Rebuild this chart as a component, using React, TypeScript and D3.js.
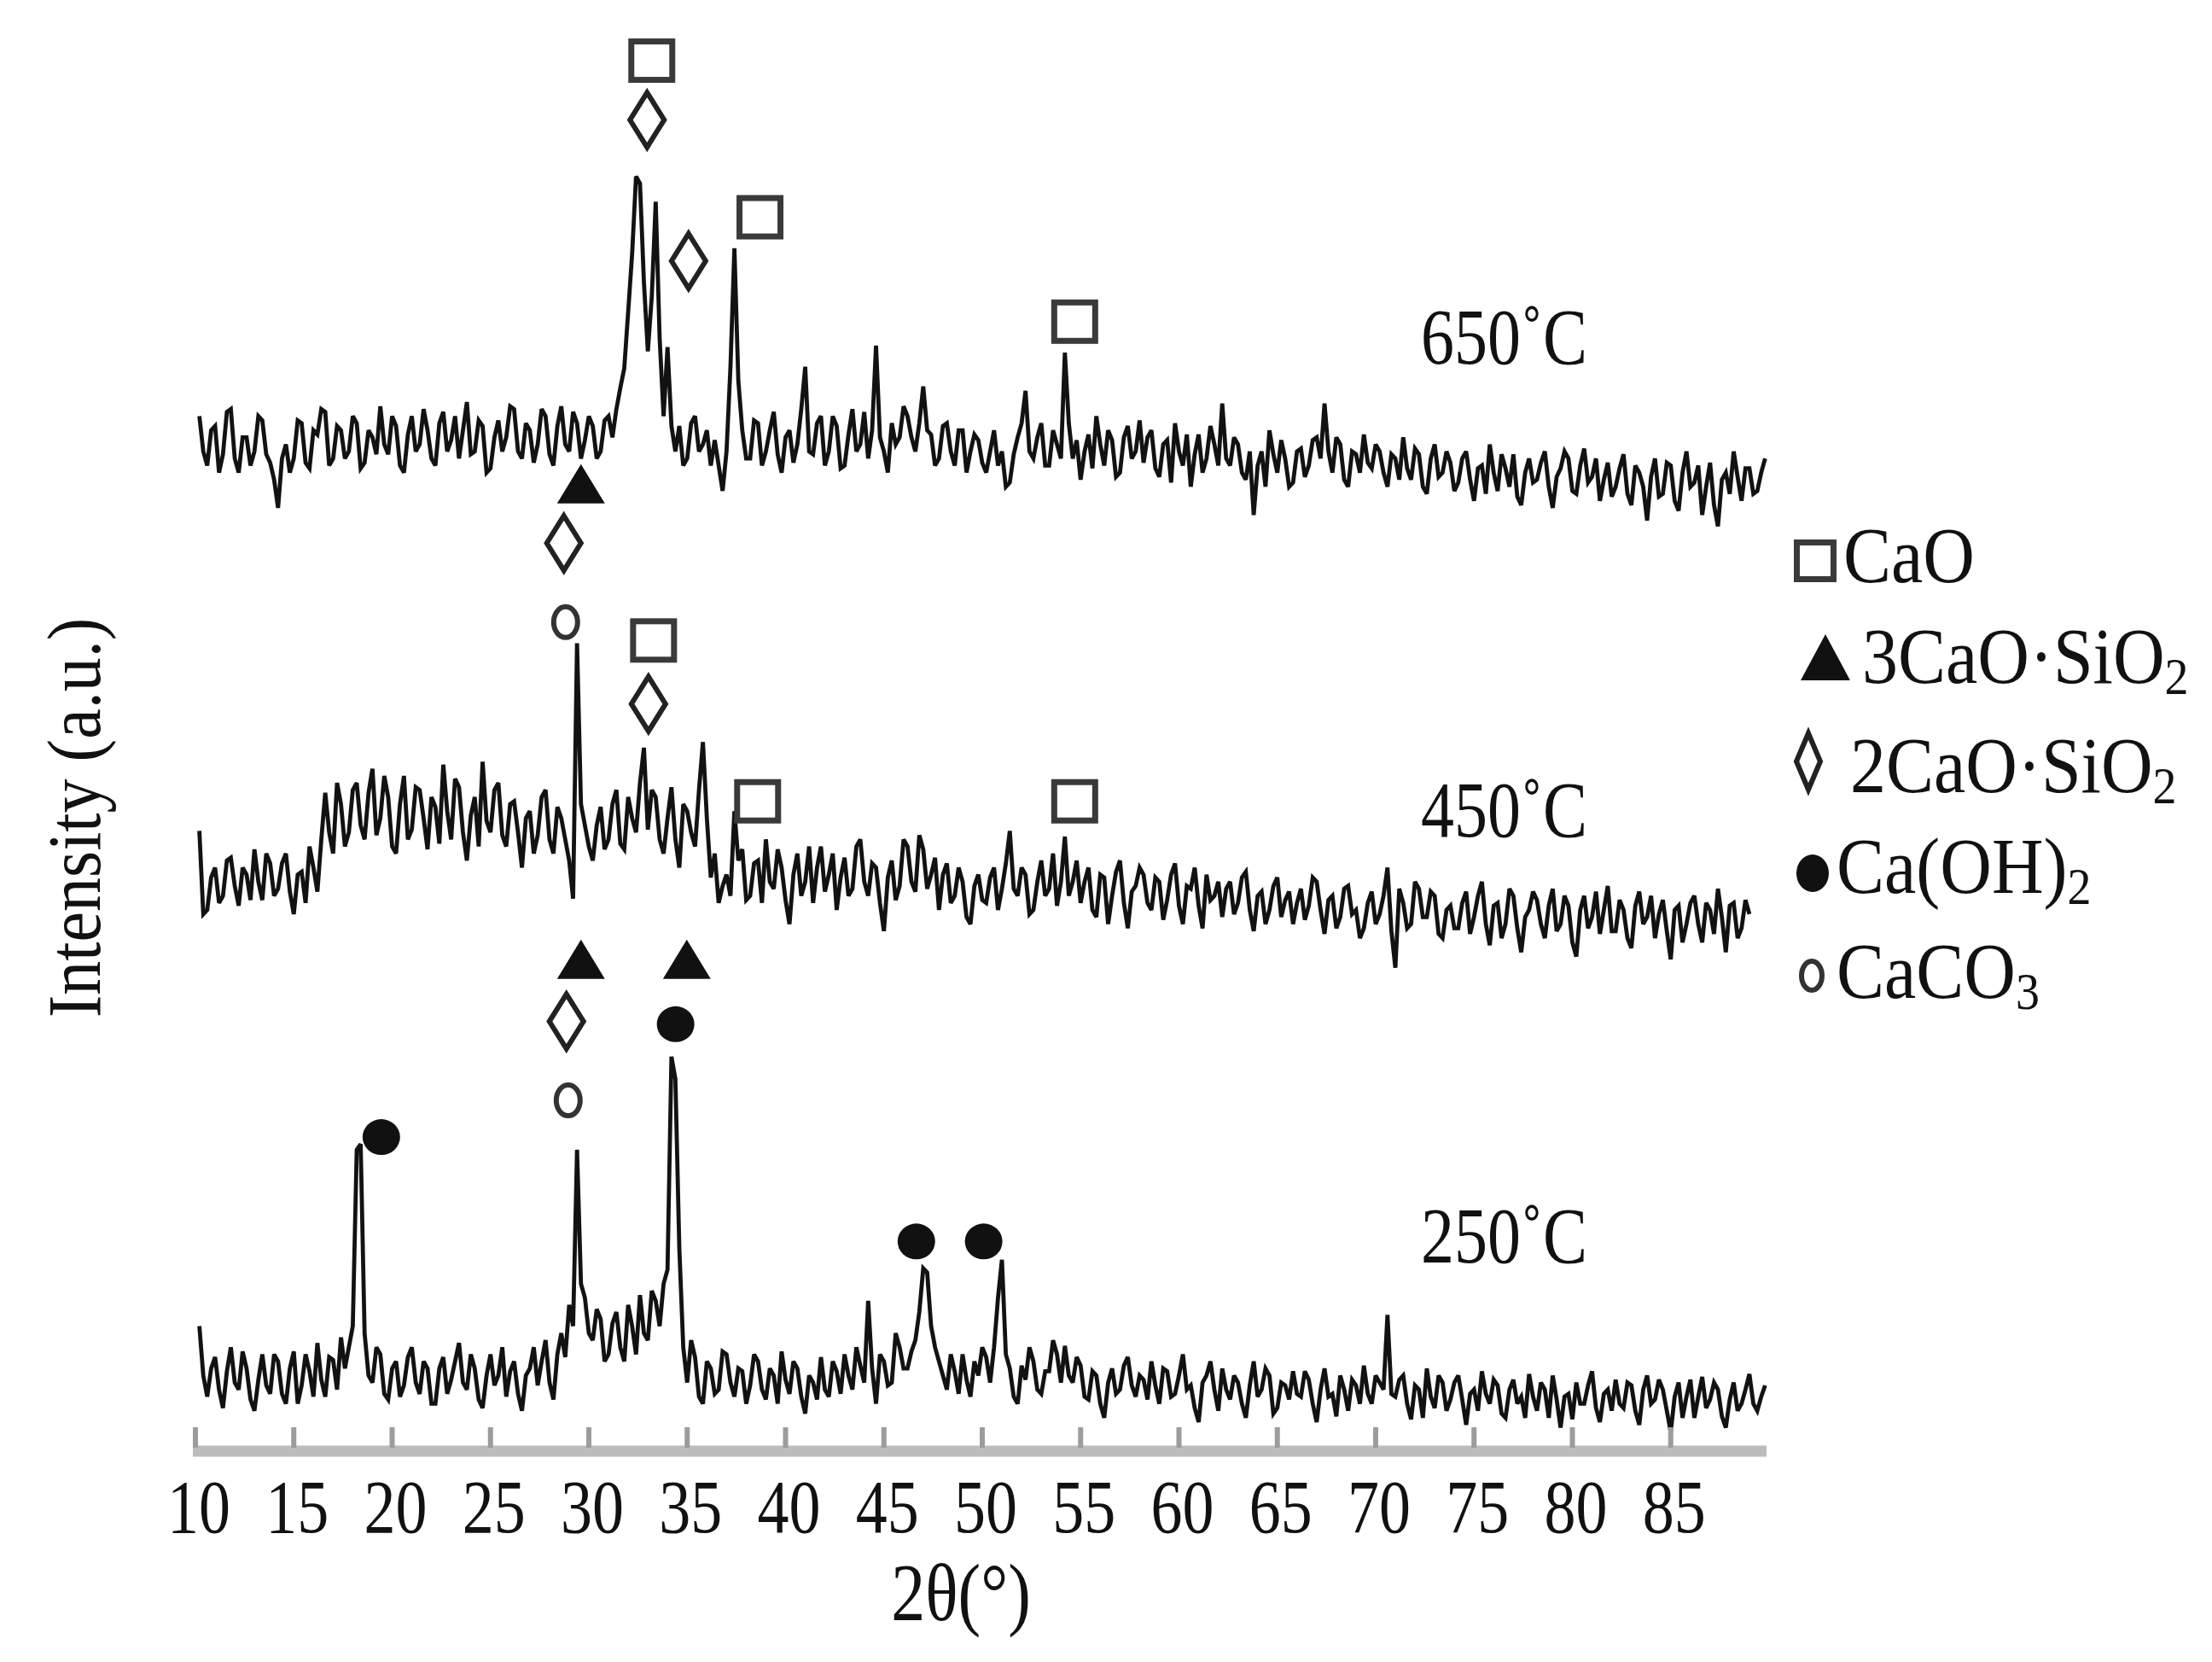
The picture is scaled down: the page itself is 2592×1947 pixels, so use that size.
import React from 'react';
import * as d3 from 'd3';

// ---------- DATA ----------
// XRD patterns, 2θ from 10.2° with a 0.2° step; intensity in a.u. above each pattern's own base
const THETA_START = 10.2;
const THETA_STEP = 0.2;

const series250 = [
  60, 25, 10, 30, 38, 15, 2, 28, 45, 20, 15, 42, 30, 8, 0, 22, 40, 18, 12, 40,
  35, 12, 5, 30, 42, 5, 18, 40, 28, 10, 48, 22, 10, 38, 36, 15, 52, 30, 45, 60,
  185, 189, 55, 25, 20, 45, 40, 12, 8, 30, 35, 10, 18, 38, 45, 20, 12, 35, 30, 5,
  5, 30, 38, 12, 22, 35, 48, 20, 15, 40, 30, 8, 2, 25, 40, 18, 25, 45, 10, 28,
  35, 12, 0, 25, 30, 45, 18, 35, 50, 20, 8, 40, 55, 38, 75, 60, 185, 90, 80, 55,
  50, 72, 65, 35, 40, 62, 70, 45, 35, 75, 60, 40, 82, 55, 50, 85, 78, 60, 90, 100,
  251, 235, 115, 45, 20, 50, 38, 10, 5, 35, 30, 12, 15, 42, 40, 20, 10, 30, 28, 5,
  18, 40, 35, 15, 8, 30, 25, 5, 42, 22, 12, 35, 30, 10, -2, 25, 20, 8, 38, 15,
  10, 35, 28, 12, 40, 25, 15, 45, 32, 20, 78, 30, 5, 40, 35, 18, 20, 55, 45, 30,
  30, 42, 50, 70, 101, 98, 60, 45, 35, 25, 15, 40, 28, 12, 40, 22, 10, 35, 25, 45,
  38, 20, 45, 80, 107, 40, 30, 10, 5, 32, 22, 45, 35, 15, 12, 28, 28, 50, 40, 20,
  46, 25, 20, 38, 32, 10, 8, 28, 25, 5, -5, 20, 30, 12, 15, 32, 38, 18, 10, 25,
  22, 8, 35, 18, 5, 30, 28, 10, 12, 25, 40, 15, 18, 2, -8, 20, 25, 35, 15, 0,
  30, 15, 8, 25, 20, 5, -5, 18, 35, 10, 15, 30, 25, -2, 2, 20, 18, 8, 28, 12,
  10, 28, 22, 5, -8, 15, 30, 10, 12, -4, 25, 15, 0, 22, 18, 5, 32, 12, 5, 25,
  20, 15, 68, 12, 10, 22, 25, 5, -6, 18, 15, -5, 30, 10, 2, 25, 20, 0, 8, 20,
  25, 8, -10, 12, 15, 0, 28, 12, 5, 22, 18, -2, -5, 15, 22, 5, 10, -5, 26, 10,
  0, 20, 15, -5, 25, 8, -12, 10, 12, -6, 20, 5, 5, 18, 28, 2, -8, 12, 15, 0,
  22, 5, 2, 20, 18, 0, -10, 15, 25, 5, 8, 22, 15, 0, -15, 10, 20, -5, 10, 22,
  -5, 10, 24, 2, 8, 20, 15, -4, -12, 8, 20, 0, 5, 15, 26, 5, 0, 10, 18,
];

const series450 = [
  61, 2, 5, 28, 35, 10, 15, 40, 42, 22, 8, 35, 30, 12, 48, 25, 12, 45, 38, 15,
  20, 38, 45, 18, 2, 30, 32, 10, 50, 35, 18, 55, 88, 60, 45, 95, 80, 50, 60, 90,
  95, 65, 55, 88, 105, 58, 70, 100, 85, 50, 45, 80, 100, 55, 62, 92, 90, 70, 48, 85,
  78, 52, 108, 75, 55, 98, 92, 60, 40, 72, 85, 50, 110, 68, 60, 90, 95, 58, 50, 80,
  82, 60, 35, 70, 75, 45, 58, 85, 90, 55, 45, 78, 70, 55, 40, 13, 194, 80, 65, 50,
  40, 65, 78, 48, 55, 80, 90, 52, 48, 85, 70, 60, 95, 120, 62, 90, 85, 55, 45, 70,
  92, 55, 35, 80, 75, 60, 50, 90, 124, 70, 28, 45, 10, 22, 30, 15, 75, 40, 48, 12,
  15, 38, 40, 10, 55, 25, 20, 48, 35, 12, -5, 30, 45, 15, 25, 50, 10, 35, 50, 18,
  30, 45, 5, 28, 42, 15, 20, 50, 55, 25, 15, 38, 35, 10, -10, 28, 40, 12, 22, 55,
  50, 25, 18, 58, 48, 20, 30, 42, 5, 30, 38, 10, 15, 35, 25, 0, -5, 22, 30, 12,
  10, 28, 35, 5, 20, 38, 61, 20, 15, 35, 30, 2, 5, 25, 40, 15, 20, 45, 8, 25,
  57, 15, 25, 40, 10, 25, 35, 5, 0, 30, 28, -5, 15, 32, 40, 10, -8, 18, 22, 35,
  30, 10, 5, 28, 25, -2, 12, 30, 38, 8, -5, 22, 20, 35, 8, -8, 30, 12, 15, 25,
  0, 20, 25, 2, 10, 28, 32, 5, -10, 15, 18, -5, 5, 22, 28, 0, 12, 18, -5, 10,
  20, -2, 8, 28, 25, 5, -12, 12, 15, -8, 0, 20, 22, 2, 5, -15, -8, 10, 18, -5,
  2, 15, 35, -10, -36, 20, 10, -8, -5, 25, 20, 0, 0, 18, 15, -12, -15, 5, 8, -8,
  -8, 10, 18, -12, 0, 15, 25, -5, -20, 8, 10, -15, -5, 20, 15, -8, -25, 0, 5, 18,
  12, -5, -15, 8, 20, -10, -5, 15, 8, -18, -28, 5, 15, -8, 0, 18, -12, 5, 22, -10,
  -10, 12, 5, -15, -22, 8, 18, -5, 0, 15, -15, 2, 12, -10, -30, 5, 8, -18, -5, 10,
  15, -5, -18, 10, 5, -12, 20, 0, -25, 8, 10, -15, -8, 12, 2,
];

const series650 = [
  55, 30, 20, 45, 48, 15, 28, 58, 60, 25, 15, 40, 40, 20, 30, 55, 52, 28, 22, 10,
  -10, 25, 35, 15, 25, 52, 50, 22, 18, 45, 42, 60, 58, 20, 25, 48, 45, 25, 30, 55,
  50, 18, 22, 45, 40, 28, 62, 35, 28, 55, 48, 20, 15, 42, 55, 30, 35, 60, 45, 25,
  20, 50, 58, 30, 38, 55, 25, 45, 65, 28, 30, 52, 48, 15, 18, 40, 52, 30, 40, 62,
  60, 30, 25, 50, 45, 22, 35, 60, 55, 28, 20, 48, 62, 35, 30, 58, 50, 25, 38, 55,
  48, 25, 30, 52, 55, 40, 60, 75, 89, 129, 170, 225, 220, 150, 101, 140, 207, 110, 55, 104,
  48, 30, 48, 20, 25, 50, 55, 30, 35, 45, 20, 38, 20, 2, 30, 90, 174, 80, 45, 25,
  25, 52, 50, 20, 30, 45, 58, 28, 15, 40, 45, 22, 35, 60, 90, 30, 28, 50, 55, 20,
  30, 55, 48, 18, 20, 42, 60, 30, 35, 58, 25, 45, 105, 40, 30, 15, 50, 35, 40, 62,
  55, 40, 30, 50, 76, 45, 42, 20, 25, 48, 50, 30, 20, 45, 45, 15, 30, 42, 38, 22,
  15, 30, 45, 20, 30, 5, 8, 28, 40, 50, 73, 30, 25, 40, 50, 20, 20, 45, 35, 25,
  100, 50, 25, 38, 10, 30, 42, 18, 55, 35, 20, 45, 38, 12, 15, 40, 48, 25, 30, 52,
  22, 40, 45, 18, 12, 35, 38, 8, 50, 30, 20, 42, 5, 28, 42, 15, 25, 48, 35, 20,
  64, 25, 20, 40, 35, 15, 10, 30, -15, 20, 30, 5, 45, 28, 15, 38, 25, 5, 8, 30,
  32, 12, 20, 38, 40, 25, 64, 30, 15, 40, 35, 10, 5, 30, 28, 15, 42, 22, 18, 35,
  30, 15, 5, 28, 25, 10, 40, 18, 10, 32, 28, 5, 0, 25, 35, 12, 15, 30, 22, 2,
  8, 25, 30, 10, -5, 18, 20, 0, 35, 15, 2, 28, 18, 5, 28, -2, -8, 15, 25, 8,
  10, 22, 30, 5, -10, 12, 18, 30, 25, 2, 0, 20, 32, 8, 12, 25, -5, 10, 22, -2,
  5, 18, 28, 0, -8, 20, 15, 5, -19, 12, 25, -2, 0, 22, 20, -5, -12, 15, 30, 5,
  8, 20, -15, 5, 22, -8, -23, 10, 15, 0, 30, 12, -5, 18, 18, 0, 2, 15, 25,
];

const seriesLabels = ['650˚C', '450˚C', '250˚C'];
const seriesOffsets = [675, 375, 25]; // vertical stacking (a.u.)
const labelLevels = [767, 432, 130];  // a.u. level of each temperature label baseline
const labelTheta = 72.3;

const xTicks = [10, 15, 20, 25, 30, 35, 40, 45, 50, 55, 60, 65, 70, 75, 80, 85];

// phase markers: [2θ, level in a.u.]
const caoMarks = [[33.2, 982], [38.7, 871], [54.7, 797], [33.29, 571], [38.58, 457], [54.7, 457]];
const c3sMarks = [[29.6, 682], [29.6, 345], [34.98, 345]];
const c2sMarks = [[32.96, 940], [35.07, 840], [28.73, 640], [33.03, 526], [28.86, 301]];
const chMarks = [[34.41, 299], [19.45, 219], [46.65, 145], [50.07, 145]];
const ccMarks = [[28.82, 584], [28.95, 245]];

// ---------- DRAWING ----------
const W = 2592;
const H = 1947;
const FONT = "'Liberation Serif', 'Times New Roman', serif";

const x = d3.scaleLinear().domain([10, 90]).range([229, 2073]);
const y = d3.scaleLinear().domain([0, 1025]).range([1694, 0]);

function Square({ cx, cy, w, h, sw }: any) {
  return <rect x={cx - w / 2} y={cy - h / 2} width={w} height={h} fill="none" stroke="#3a3a3a" strokeWidth={sw} />;
}
function Diamond({ cx, cy, hw, hh, sw }: any) {
  return <path d={`M${cx},${cy - hh}L${cx + hw},${cy}L${cx},${cy + hh}L${cx - hw},${cy}Z`} fill="none" stroke="#222" strokeWidth={sw} />;
}
function Tri({ cx, cy, w, h }: any) {
  return <path d={`M${cx},${cy - h / 2}L${cx + w / 2},${cy + h / 2}L${cx - w / 2},${cy + h / 2}Z`} fill="#111" />;
}
function Dot({ cx, cy, rx, ry }: any) {
  return <ellipse cx={cx} cy={cy} rx={rx} ry={ry} fill="#111" />;
}
function Ring({ cx, cy, rx, ry, sw }: any) {
  return <ellipse cx={cx} cy={cy} rx={rx} ry={ry} fill="none" stroke="#333" strokeWidth={sw} />;
}

function STxt({ x0, y0, size, sy = 1.15, anchor = 'start', children }: any) {
  return (
    <g transform={`translate(${x0},${y0}) scale(1,${sy})`}>
      <text x={0} y={0} fontFamily={FONT} fontSize={size} textAnchor={anchor} fill="#111">{children}</text>
    </g>
  );
}

export default function App() {
  const allSeries = [series650, series450, series250];
  const line = (offset: number) =>
    d3.line<number>()
      .x((_, i) => x(THETA_START + i * THETA_STEP))
      .y((d) => y(d + offset))
      .curve(d3.curveLinear);

  const legend = [
    { kind: 'sq', cy: 657, text: 'CaO', sub: '', tx: 2160, by: 682 },
    { kind: 'tri', cy: 770, text: '3CaO·SiO', sub: '2', tx: 2182, by: 800 },
    { kind: 'dia', cy: 892, text: '2CaO·SiO', sub: '2', tx: 2168, by: 928 },
    { kind: 'dot', cy: 1023, text: 'Ca(OH)', sub: '2', tx: 2152, by: 1046 },
    { kind: 'ring', cy: 1143, text: 'CaCO', sub: '3', tx: 2152, by: 1169 },
  ];

  return (
    <svg width={W} height={H} style={{ position: 'absolute', left: 0, top: 0, background: '#fff' }}>
      <rect x={0} y={0} width={W} height={H} fill="#fff" />

      {/* traces */}
      {allSeries.map((s, k) => (
        <path key={k} d={line(seriesOffsets[k])(s) || ''} fill="none" stroke="#121212" strokeWidth={4.8} strokeLinejoin="miter" strokeMiterlimit={3} />
      ))}

      {/* temperature labels */}
      {seriesLabels.map((t, k) => (
        <STxt key={t} x0={x(labelTheta)} y0={y(labelLevels[k])} size={78} sy={1.2}>{t}</STxt>
      ))}

      {/* phase markers */}
      {caoMarks.map(([t, l], i) => <Square key={'c' + i} cx={x(t)} cy={y(l)} w={48} h={45} sw={7} />)}
      {c2sMarks.map(([t, l], i) => <Diamond key={'d' + i} cx={x(t)} cy={y(l)} hw={20} hh={32} sw={6} />)}
      {c3sMarks.map(([t, l], i) => <Tri key={'t' + i} cx={x(t)} cy={y(l)} w={56} h={46} />)}
      {chMarks.map(([t, l], i) => <Dot key={'h' + i} cx={x(t)} cy={y(l)} rx={22} ry={21} />)}
      {ccMarks.map(([t, l], i) => <Ring key={'r' + i} cx={x(t)} cy={y(l)} rx={14} ry={18} sw={6} />)}

      {/* x axis */}
      <line x1={x(10) - 3} x2={x(90) - 3} y1={1700} y2={1700} stroke="#bcbcbc" strokeWidth={13} />
      {xTicks.map((t) => (
        <rect key={t} x={x(t) - 3} y={1672} width={6} height={24} fill="#9c9c9c" />
      ))}
      {xTicks.map((t) => (
        <STxt key={'l' + t} x0={x(t) + 4} y0={1795} size={74} sy={1.2} anchor="middle">{String(t)}</STxt>
      ))}
      <STxt x0={1126} y0={1898} size={80} sy={1.2} anchor="middle">2θ(°)</STxt>

      {/* y axis title */}
      <g transform={`translate(117,958) rotate(-90) scale(1,1.12)`}>
        <text x={0} y={0} fontFamily={FONT} fontSize={80} textAnchor="middle" fill="#111">Intensity (a.u.)</text>
      </g>

      {/* legend */}
      {legend.map((e) => (
        <g key={e.text}>
          {e.kind === 'sq' && <Square cx={2127} cy={e.cy} w={43} h={43} sw={7} />}
          {e.kind === 'tri' && <Tri cx={2139} cy={e.cy} w={58} h={54} />}
          {e.kind === 'dia' && <Diamond cx={2119} cy={e.cy} hw={14} hh={33} sw={6} />}
          {e.kind === 'dot' && <Dot cx={2124} cy={e.cy} rx={19} ry={22} />}
          {e.kind === 'ring' && <Ring cx={2123} cy={e.cy} rx={12} ry={17} sw={6} />}
          <g transform={`translate(${e.tx},${e.by}) scale(1,1.1)`}>
            <text x={0} y={0} fontFamily={FONT} fontSize={84} fill="#111">
              {e.text}
              {e.sub && <tspan fontSize={56} dy={12}>{e.sub}</tspan>}
            </text>
          </g>
        </g>
      ))}
    </svg>
  );
}
